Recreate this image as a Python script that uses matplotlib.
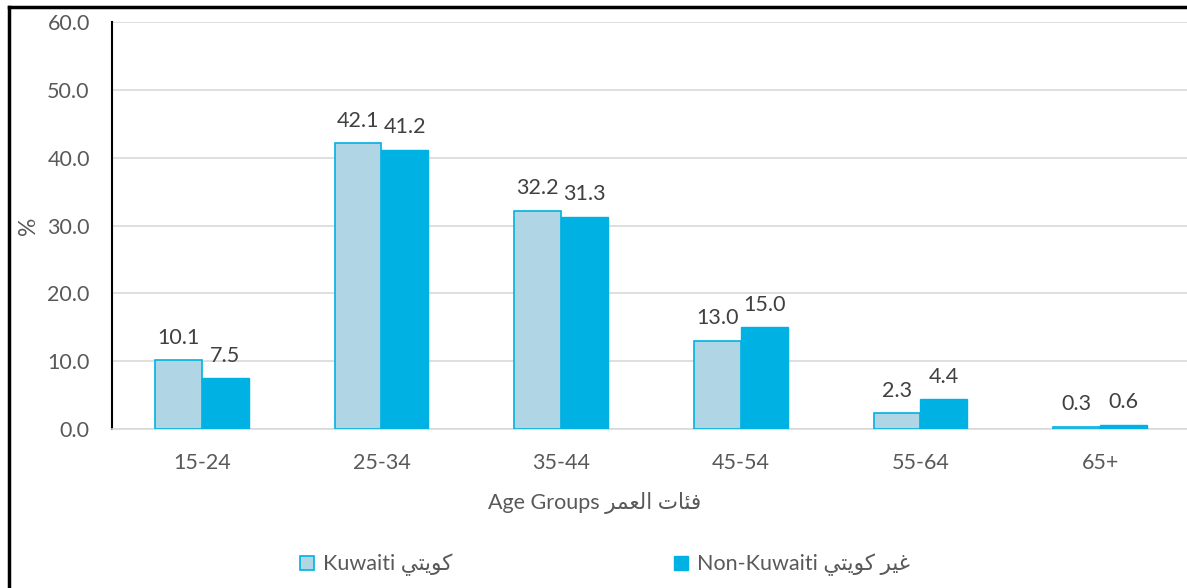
import matplotlib
matplotlib.use("Agg")
import matplotlib.pyplot as plt
import numpy as np
from matplotlib.lines import Line2D
from matplotlib.patches import Patch

# Arabic strings written in visual (shaped, left-to-right) order
AR_KUWAITI = "\uFEF2\uFE98\uFEF3\uFEEE\uFEDB"                 # كويتي
AR_NON = "\uFEF2\uFE98\uFEF3\uFEEE\uFEDB \uFEAE\uFEF4\uFECF"   # غير كويتي
AR_AGE = "\uFEAE\uFEE4\uFECC\uFEDF\uFE8D \uFE95\uFE8E\uFE8C\uFED3"  # فئات العمر

age_groups = ["15-24", "25-34", "35-44", "45-54", "55-64", "65+"]
kuwaiti = [10.1, 42.1, 32.2, 13.0, 2.3, 0.3]
non_kuwaiti = [7.5, 41.2, 31.3, 15.0, 4.4, 0.6]
y_ticks = [0, 10, 20, 30, 40, 50, 60]

plt.rcParams["font.family"] = ["Lato", "DejaVu Sans"]
TXT = "#595959"
C_KUW = "#B0D5E5"
C_NON = "#00B2E3"
FS = 15.5

fig = plt.figure(figsize=(11.87, 5.88), dpi=100)
ax = fig.add_axes([112 / 1187, 1 - 429 / 588, 1078 / 1187, 407 / 588])

x = np.arange(len(age_groups))
w = 0.26
b1 = ax.bar(x - w / 2, kuwaiti, w, color=C_KUW, edgecolor=C_NON, linewidth=1.2, zorder=3)
b2 = ax.bar(x + w / 2, non_kuwaiti, w, color=C_NON, edgecolor=C_NON, linewidth=1.0, zorder=3)
ax.bar_label(b1, fmt="%.1f", padding=9, fontsize=FS, color="#404040")
ax.bar_label(b2, fmt="%.1f", padding=9, fontsize=FS, color="#404040")

ax.set_xlim(-0.5, len(age_groups) - 0.5)
ax.set_ylim(0, 60)
ax.set_yticks(y_ticks)
ax.set_yticklabels([f"{v:.1f}" for v in y_ticks], fontsize=FS, color=TXT)
ax.set_xticks(x)
ax.set_xticklabels(age_groups, fontsize=FS, color=TXT)
ax.tick_params(axis="both", length=0)
ax.tick_params(axis="y", pad=16)
ax.tick_params(axis="x", pad=17)
ax.yaxis.grid(True, color="#D9D9D9", linewidth=1.2, zorder=0)
ax.set_axisbelow(True)
for s in ["top", "right"]:
    ax.spines[s].set_visible(False)
ax.spines["left"].set_color("#000000")
ax.spines["left"].set_linewidth(1.5)
ax.spines["bottom"].set_color("#D9D9D9")
ax.spines["bottom"].set_linewidth(1.2)

ax.set_xlabel("Age Groups " + AR_AGE, fontsize=FS, color=TXT)
ax.xaxis.set_label_coords((593 - 110) / 1078, -(492 - 429) / 407)
ax.set_ylabel("%", fontsize=FS + 1, color=TXT)
ax.yaxis.set_label_coords(-(112 - 39) / 1078, 0.5)

handles = [Patch(facecolor=C_KUW, edgecolor=C_NON, linewidth=1.2),
           Patch(facecolor=C_NON, edgecolor=C_NON)]
labels = ["Kuwaiti " + AR_KUWAITI, "Non-Kuwaiti " + AR_NON]
fig.legend(handles, labels, loc="center", bbox_to_anchor=(605 / 1187, 1 - 565 / 588),
           ncol=2, frameon=False, fontsize=FS, labelcolor=TXT,
           handlelength=0.65, handleheight=0.65, handletextpad=0.4, columnspacing=10.3)

# outer chart border (left and top edges visible)
fig.add_artist(Line2D([9.5 / 1187, 9.5 / 1187], [0, 1 - 7 / 588], color="black", lw=2.5,
                      transform=fig.transFigure))
fig.add_artist(Line2D([9.5 / 1187, 1], [1 - 7 / 588, 1 - 7 / 588], color="black", lw=2.5,
                      transform=fig.transFigure))

fig.savefig("out.png", dpi=100)
